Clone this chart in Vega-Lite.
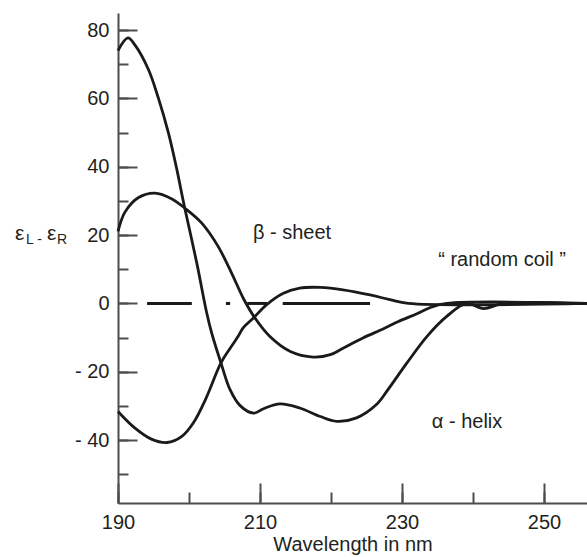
{
  "$schema": "https://vega.github.io/schema/vega-lite/v6.json",
  "width": 469,
  "height": 490,
  "autosize": {"type": "none"},
  "padding": {"left": 118, "top": 13, "right": 0, "bottom": 54},
  "background": "white",
  "config": {"view": {"stroke": null}, "font": "Liberation Sans", "axis": {"grid": false}},
  "datasets": {
    "curves": [
      {"series": "alpha", "wl": 190, "v": 74.0},
      {"series": "alpha", "wl": 191.4, "v": 77.7},
      {"series": "alpha", "wl": 192.4, "v": 75.6},
      {"series": "alpha", "wl": 194.3, "v": 68.4},
      {"series": "alpha", "wl": 195.7, "v": 60.0},
      {"series": "alpha", "wl": 197.1, "v": 49.9},
      {"series": "alpha", "wl": 198.3, "v": 39.1},
      {"series": "alpha", "wl": 199.3, "v": 28.9},
      {"series": "alpha", "wl": 201.1, "v": 11.8},
      {"series": "alpha", "wl": 202.5, "v": -2.8},
      {"series": "alpha", "wl": 203.2, "v": -8.7},
      {"series": "alpha", "wl": 204.5, "v": -17.4},
      {"series": "alpha", "wl": 205.8, "v": -25.3},
      {"series": "alpha", "wl": 207.2, "v": -29.9},
      {"series": "alpha", "wl": 209.1, "v": -32.1},
      {"series": "alpha", "wl": 210.5, "v": -30.8},
      {"series": "alpha", "wl": 212.8, "v": -29.4},
      {"series": "alpha", "wl": 215.6, "v": -30.6},
      {"series": "alpha", "wl": 218.5, "v": -33.1},
      {"series": "alpha", "wl": 220.8, "v": -34.5},
      {"series": "alpha", "wl": 223.6, "v": -33.5},
      {"series": "alpha", "wl": 226.4, "v": -29.6},
      {"series": "alpha", "wl": 228.0, "v": -25.3},
      {"series": "alpha", "wl": 230.7, "v": -17.4},
      {"series": "alpha", "wl": 233.5, "v": -9.7},
      {"series": "alpha", "wl": 236.3, "v": -3.8},
      {"series": "alpha", "wl": 239.1, "v": 0},
      {"series": "alpha", "wl": 241.5, "v": -1.5},
      {"series": "alpha", "wl": 244.3, "v": 0},
      {"series": "alpha", "wl": 256.06, "v": 0},
      {"series": "beta", "wl": 190, "v": 21.1},
      {"series": "beta", "wl": 191, "v": 26.8},
      {"series": "beta", "wl": 192.9, "v": 31.0},
      {"series": "beta", "wl": 195.2, "v": 32.3},
      {"series": "beta", "wl": 197.6, "v": 30.6},
      {"series": "beta", "wl": 199.4, "v": 27.9},
      {"series": "beta", "wl": 201.8, "v": 23.5},
      {"series": "beta", "wl": 204.1, "v": 16.7},
      {"series": "beta", "wl": 206.0, "v": 8.9},
      {"series": "beta", "wl": 207.7, "v": 1.3},
      {"series": "beta", "wl": 209.3, "v": -4.3},
      {"series": "beta", "wl": 211.4, "v": -9.7},
      {"series": "beta", "wl": 214.2, "v": -14.0},
      {"series": "beta", "wl": 217.5, "v": -15.7},
      {"series": "beta", "wl": 219.9, "v": -15.0},
      {"series": "beta", "wl": 221.7, "v": -13.1},
      {"series": "beta", "wl": 224.5, "v": -10.1},
      {"series": "beta", "wl": 227.4, "v": -7.4},
      {"series": "beta", "wl": 229.5, "v": -5.3},
      {"series": "beta", "wl": 232.1, "v": -3.0},
      {"series": "beta", "wl": 234.0, "v": -1.2},
      {"series": "beta", "wl": 236.3, "v": 0},
      {"series": "beta", "wl": 256.06, "v": 0},
      {"series": "coil", "wl": 190, "v": -31.6},
      {"series": "coil", "wl": 192.4, "v": -36.5},
      {"series": "coil", "wl": 194.7, "v": -39.7},
      {"series": "coil", "wl": 196.9, "v": -40.7},
      {"series": "coil", "wl": 199.0, "v": -38.9},
      {"series": "coil", "wl": 200.6, "v": -35.0},
      {"series": "coil", "wl": 202.3, "v": -28.2},
      {"series": "coil", "wl": 204.5, "v": -17.4},
      {"series": "coil", "wl": 205.8, "v": -13.1},
      {"series": "coil", "wl": 206.9, "v": -9.7},
      {"series": "coil", "wl": 207.6, "v": -7.2},
      {"series": "coil", "wl": 209.1, "v": -4.2},
      {"series": "coil", "wl": 210.9, "v": -0.4},
      {"series": "coil", "wl": 213.3, "v": 3.0},
      {"series": "coil", "wl": 215.6, "v": 4.5},
      {"series": "coil", "wl": 218.5, "v": 4.7},
      {"series": "coil", "wl": 221.7, "v": 4.0},
      {"series": "coil", "wl": 225.5, "v": 2.5},
      {"series": "coil", "wl": 228.3, "v": 1.1},
      {"series": "coil", "wl": 230.9, "v": 0},
      {"series": "coil", "wl": 256.06, "v": 0}
    ],
    "dashes": [
      {"start": 194.1, "end": 200.4},
      {"start": 205.2, "end": 205.8},
      {"start": 208.2, "end": 211.0},
      {"start": 213.2, "end": 225.5}
    ],
    "labels": [
      {"label": "β - sheet", "x": 209.0, "y": 20.6},
      {"label": "“ random coil ”", "x": 235.1, "y": 12.7},
      {"label": "α - helix", "x": 234.2, "y": -34.6}
    ],
    "titleBig": [
      {"g": "ε", "x": 175.49, "y": 18.55},
      {"g": "ε", "x": 180.0, "y": 18.55}
    ],
    "titleSmall": [
      {"g": "L -", "x": 177.04, "y": 17.4},
      {"g": "R", "x": 181.41, "y": 17.4}
    ]
  },
  "resolve": {"axis": {"x": "independent", "y": "independent"}},
  "layer": [
    {
      "data": {"name": "curves"},
      "mark": {"type": "line", "interpolate": "catmull-rom", "strokeWidth": 2.8, "color": "#1a1a1a"},
      "encoding": {
        "x": {
          "field": "wl", "type": "quantitative",
          "scale": {"domain": [190, 256.06], "nice": false, "zero": false},
          "axis": {
            "orient": "bottom",
            "title": "Wavelength in nm",
            "values": [190, 210, 230, 250],
            "tickSize": -20,
            "labelPadding": 29,
            "labelFlush": false,
            "labelOverlap": false,
            "domainColor": "#4d4d4d", "domainWidth": 2,
            "tickColor": "#4d4d4d", "tickWidth": 2,
            "labelFontSize": 20, "labelColor": "#231f20", "labelFont": "Liberation Sans",
            "titleFontSize": 20, "titleFontWeight": "normal", "titleColor": "#231f20", "titleFont": "Liberation Sans",
            "titlePadding": 2
          }
        },
        "y": {
          "field": "v", "type": "quantitative",
          "scale": {"domain": [-58.4, 85], "nice": false, "zero": false},
          "axis": {
            "orient": "left",
            "title": null,
            "values": [-40, -20, 0, 20, 40, 60, 80],
            "labelExpr": "datum.value < 0 ? '- ' + (-datum.value) : datum.label",
            "tickSize": -19,
            "labelPadding": 28,
            "labelFlush": false,
            "labelOverlap": false,
            "domainColor": "#4d4d4d", "domainWidth": 2,
            "tickColor": "#4d4d4d", "tickWidth": 2,
            "labelFontSize": 20, "labelColor": "#231f20", "labelFont": "Liberation Sans"
          }
        },
        "detail": {"field": "series", "type": "nominal"}
      }
    },
    {
      "data": {"name": "dashes"},
      "mark": {"type": "rule", "strokeWidth": 3, "color": "#1a1a1a"},
      "encoding": {
        "x": {
          "field": "start", "type": "quantitative",
          "axis": {"orient": "bottom", "title": null, "values": [190, 200, 210, 220, 230, 240, 250], "labels": false, "domain": false, "tickSize": -11, "tickColor": "#4d4d4d", "tickWidth": 2}
        },
        "x2": {"field": "end"},
        "y": {
          "datum": 0, "type": "quantitative",
          "axis": {"orient": "left", "title": null, "values": [-50, -40, -30, -20, -10, 0, 10, 20, 30, 40, 50, 60, 70, 80], "labels": false, "domain": false, "tickSize": -10, "tickColor": "#4d4d4d", "tickWidth": 2}
        }
      }
    },
    {
      "data": {"name": "labels"},
      "mark": {"type": "text", "align": "left", "baseline": "middle", "fontSize": 20, "font": "Liberation Sans", "color": "#231f20"},
      "encoding": {
        "x": {"field": "x", "type": "quantitative", "axis": null},
        "y": {"field": "y", "type": "quantitative", "axis": null},
        "text": {"field": "label"}
      }
    },
    {
      "data": {"name": "titleBig"},
      "mark": {"type": "text", "align": "left", "baseline": "alphabetic", "fontSize": 21, "font": "Liberation Sans", "color": "#231f20"},
      "encoding": {
        "x": {"field": "x", "type": "quantitative", "axis": null},
        "y": {"field": "y", "type": "quantitative", "axis": null},
        "text": {"field": "g"}
      }
    },
    {
      "data": {"name": "titleSmall"},
      "mark": {"type": "text", "align": "left", "baseline": "alphabetic", "fontSize": 14, "font": "Liberation Sans", "color": "#231f20"},
      "encoding": {
        "x": {"field": "x", "type": "quantitative", "axis": null},
        "y": {"field": "y", "type": "quantitative", "axis": null},
        "text": {"field": "g"}
      }
    }
  ]
}
